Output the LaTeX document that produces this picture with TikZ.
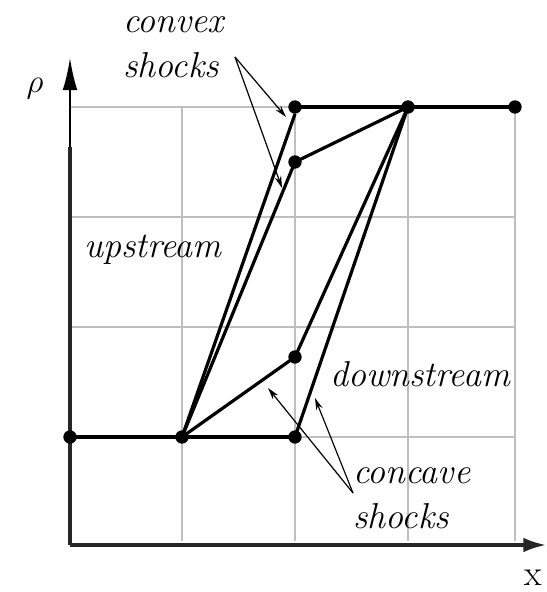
\documentclass[tikz,border=0pt]{standalone}
\usetikzlibrary{arrows.meta}
\begin{document}
\begin{tikzpicture}[x=0.75pt,y=-0.75pt,
  gridline/.style={draw=black!25,line width=1.2pt},
  axisline/.style={draw=black!85,line width=2.3pt},
  shock/.style={draw=black,line width=2.4pt},
  dot/.style={circle,fill=black,inner sep=0pt,minimum size=10pt},
  lab/.style={font=\rmfamily\fontsize{27}{27}\selectfont\itshape,inner sep=0pt,anchor=base west},
  axlab/.style={font=\fontsize{27}{27}\selectfont,inner sep=0pt,anchor=base},
  pointer/.style={draw=black,line width=0.9pt,-{Stealth[length=9pt,width=5pt]}}]
\useasboundingbox (0,0) rectangle (546,592);
% grid
\foreach \gx in {182,295,408,515} \draw[gridline] (\gx,107) -- (\gx,541);
\foreach \gy in {107,217,327,437} \draw[gridline] (70,\gy) -- (515,\gy);
% axes
\coordinate (O) at (70,545);
\coordinate (Xend) at (546,545);
\coordinate (Yend) at (70,58);
\coordinate (Ythick) at (70,147);
\draw[draw=black,line width=1.4pt,-{Latex[length=24pt,width=11pt]}] (O) -- (Yend);
\draw[axisline] (O) -- (Ythick);
\draw[axisline,-{Latex[length=17pt,width=11pt]}] (O) -- (Xend);
\node[axlab] (rho) at (35,93) {$\rho$};
\node[axlab] (xlab) at (533,585) {x};
% points
\node[dot] (A) at (70,437) {};
\node[dot] (B) at (182,437) {};
\node[dot] (C) at (295,437) {};
\node[dot] (D) at (295,107) {};
\node[dot] (E) at (408,107) {};
\node[dot] (F) at (515,107) {};
\node[dot] (G) at (295,162) {};
\node[dot] (H) at (295,357) {};
% shocks
\draw[shock] (A.center) -- (B.center) -- (C.center);
\draw[shock] (D.center) -- (E.center) -- (F.center);
\draw[shock] (B.center) -- (D.south);
\draw[shock] (B.center) -- (G.center) -- (E.center);
\draw[shock] (B.center) -- (H.center) -- (E.center);
\draw[shock] (C.center) -- (E.center);
% labels
\node[lab] (convex) at (123,33) {convex};
\node[lab] (convexs) at (123,78) {shocks};
\node[lab] (up) at (84,257) {upstream};
\node[lab] (down) at (330,386) {downstream};
\node[lab] (concave) at (353,483) {concave};
\node[lab] (concaves) at (353,528) {shocks};
% pointers
\coordinate (cvx) at (235,57);
\coordinate (cvxA) at (286,117);
\coordinate (cvxB) at (282,188);
\draw[pointer] (cvx) -- (cvxA);
\draw[pointer] (cvx) -- (cvxB);
\coordinate (ccv) at (353,493);
\coordinate (ccvA) at (268,388);
\coordinate (ccvB) at (315,398);
\draw[pointer] (ccv) -- (ccvA);
\draw[pointer] (ccv) -- (ccvB);
\end{tikzpicture}
\end{document}
